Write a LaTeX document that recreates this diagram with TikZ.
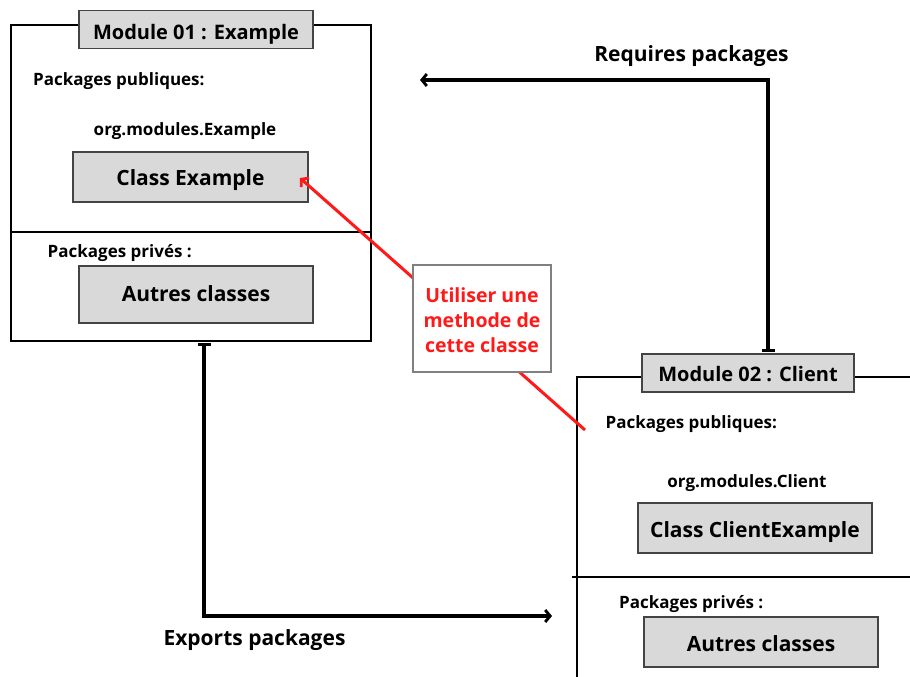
\documentclass[tikz,border=0pt]{standalone}
\usepackage{fontspec}
\setmainfont{Open Sans}
\usetikzlibrary{arrows.meta}
\definecolor{boxgrey}{HTML}{D9D9D9}
\definecolor{edgegrey}{HTML}{444444}
\definecolor{notered}{HTML}{FF1A1A}
\tikzset{
  x=1pt, y=-1pt,
  every node/.style={font=\bfseries, inner sep=0pt},
  modulebox/.style={draw=black, line width=2pt, fill=white},
  titlebox/.style={draw=edgegrey, line width=1.4pt, fill=boxgrey, text depth=0pt, font=\bfseries\fontsize{20}{24}\selectfont},
  classbox/.style={draw=edgegrey, line width=1.2pt, fill=boxgrey, text depth=0pt, font=\bfseries\fontsize{21}{25}\selectfont},
  caption/.style={anchor=base west, font=\bfseries\fontsize{17}{20}\selectfont},
  pkgname/.style={anchor=base, font=\bfseries\fontsize{17}{20}\selectfont},
  flowlabel/.style={anchor=base, font=\bfseries\fontsize{21}{25}\selectfont},
  flow/.style={line width=3.2pt, {Rectangle[length=3pt,width=13pt]}-{Straight Barb[length=5pt,width=12pt,line width=2.8pt]}},
  usage/.style={line width=3pt, draw=notered, -{Straight Barb[length=5pt,width=12pt,line width=2.8pt]}},
  notebox/.style={draw=gray, line width=1.2pt, fill=white},
  notetext/.style={text=notered, align=center, font=\bfseries\fontsize{19.5}{25}\selectfont},
}
\begin{document}
\begin{tikzpicture}
\useasboundingbox (0,0) rectangle (910,677);
\clip (0,0) rectangle (910,677);

% Module 01
\node[modulebox, minimum width=360pt, minimum height=316pt] (m1) at (191,183) {};
\draw[line width=1.2pt] (11,232) coordinate (m1dl) -- (371,232) coordinate (m1dr);
\node[titlebox, text height=21pt, minimum width=234pt, minimum height=38pt] (m1t) at (196,29.5) {Module 01 : Example};
\node[caption] (m1pub) at (33,85) {Packages publiques:};
\node[pkgname] (m1pkg) at (185,135) {org.modules.Example};
\node[classbox, text height=16pt, minimum width=235pt, minimum height=50pt] (m1cls) at (190.5,177) {Class Example};
\node[caption] (m1priv) at (47.5,257) {Packages privés :};
\node[classbox, text height=14pt, minimum width=234pt, minimum height=57pt] (m1oth) at (196,294.5) {Autres classes};

% Module 02
\node[modulebox, anchor=north west, minimum width=400pt, minimum height=400pt] (m2) at (576,376) {};
\draw[line width=1.2pt] (572,577) coordinate (m2dl) -- (912,577) coordinate (m2dr);
\node[titlebox, text height=16pt, minimum width=212pt, minimum height=38pt] (m2t) at (748,373) {Module 02 : Client};
\node[caption] (m2pub) at (605.5,428.3) {Packages publiques:};
\node[pkgname] (m2pkg) at (747,487.3) {org.modules.Client};
\node[classbox, text height=18.6pt, minimum width=234pt, minimum height=50pt] (m2cls) at (755,528) {Class ClientExample};
\node[caption] (m2priv) at (619,608) {Packages privés :};
\node[classbox, text height=19.4pt, minimum width=234pt, minimum height=50pt] (m2oth) at (761,642) {Autres classes};

% Dependencies between the modules
\coordinate (reqstart) at (768,352);
\coordinate (reqend) at (420,80);
\draw[flow] (reqstart) |- (reqend);
\node[flowlabel] (reqlbl) at (691.5,61.7) {Requires packages};

\coordinate (expstart) at (204,343);
\coordinate (expend) at (552,616);
\draw[flow] (expstart) |- (expend);
\node[flowlabel] (explbl) at (254.5,645) {Exports packages};

% Method call from the client to Class Example
\coordinate (callstart) at (585,430);
\coordinate (callend) at (300,178);
\draw[usage] (callstart) -- (callend);
\node[notebox, minimum width=138pt, minimum height=107pt] (note) at (482,318.5) {};
\node[notetext, yshift=-2pt] (notetxt) at (note.center) {Utiliser une\\methode de\\cette classe};
\end{tikzpicture}
\end{document}
